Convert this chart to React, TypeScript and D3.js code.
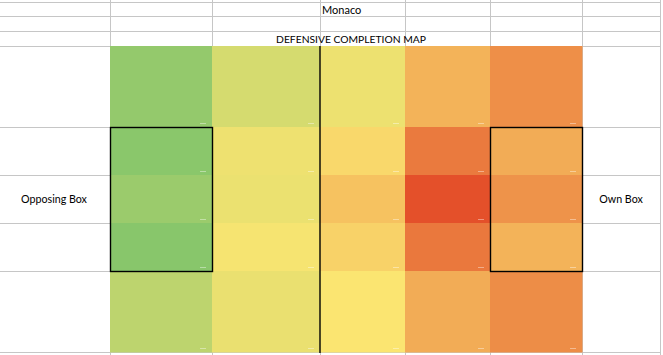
import React from "react";
import * as d3 from "d3";

// ---- data ----
const teamName = "Monaco";
const chartTitle = "DEFENSIVE COMPLETION MAP";
const leftLabel = "Opposing Box";
const rightLabel = "Own Box";
// pitch zones: columns from opposing box (left) to own box (right)
const zoneColumns = ["Att third", "Att middle", "Def middle", "Def third", "Own box col"];
const zoneRows = ["Wide left", "Half-space left", "Central", "Half-space right", "Wide right"];
// completion index per zone (0 = lowest, 1 = highest), row by row
const row0 = [0.05, 0.335, 0.44, 0.668, 0.79];
const row1 = [0.01, 0.443, 0.544, 0.86, 0.69];
const row2 = [0.083, 0.43, 0.617, 1.0, 0.775];
const row3 = [0.0, 0.48, 0.564, 0.866, 0.668];
const row4 = [0.23, 0.426, 0.5, 0.69, 0.795];
const values = [row0, row1, row2, row3, row4];

// ---- layout (spreadsheet geometry) ----
const W = 663, H = 355;
const colEdges = [0, 110, 212, 320, 405, 490, 582, 660]; // spreadsheet column boundaries
const headerLines = [2, 16, 31, 46];
const rowEdges = [46, 127, 175, 223, 271, 352];
const GRID = "#c6c6c6";
const FONT = "Lato, 'Open Sans', 'Liberation Sans', sans-serif";

export default function App() {
  const color = d3
    .scaleLinear<string>()
    .domain([0, 0.5, 1])
    .range(["#88c66b", "#fbe571", "#e4502a"])
    .interpolate(d3.interpolateRgb);

  const cx = (i: number) => colEdges[i + 1];
  const cw = (i: number) => colEdges[i + 2] - colEdges[i + 1];
  const ry = (j: number) => rowEdges[j];
  const rh = (j: number) => rowEdges[j + 1] - rowEdges[j];
  void zoneColumns;
  void zoneRows;

  const cells: React.ReactNode[] = [];
  values.forEach((row, j) =>
    row.forEach((v, i) => {
      cells.push(
        <g key={`c${i}-${j}`}>
          <rect x={cx(i)} y={ry(j)} width={cw(i) + 0.5} height={rh(j) + 0.5} fill={color(v)} />
          <rect x={cx(i) + cw(i) - 12} y={ry(j) + rh(j) - 4} width={6} height={1} fill="#fff" opacity={0.4} />
        </g>
      );
    })
  );

  const gridLines: React.ReactNode[] = [];
  headerLines.forEach((y, k) =>
    gridLines.push(<line key={`h${k}`} x1={0} x2={660} y1={y + 0.5} y2={y + 0.5} stroke={GRID} />)
  );
  colEdges.slice(1).forEach((cxv, k) =>
    gridLines.push(<line key={`v${k}`} x1={cxv + 0.5} x2={cxv + 0.5} y1={0} y2={46} stroke={GRID} />)
  );
  rowEdges.slice(1).forEach((y, k) => {
    gridLines.push(<line key={`l${k}`} x1={0} x2={110} y1={y + 0.5} y2={y + 0.5} stroke={GRID} />);
    gridLines.push(<line key={`r${k}`} x1={582} x2={660} y1={y + 0.5} y2={y + 0.5} stroke={GRID} />);
  });
  gridLines.push(<line key="bot" x1={110} x2={582} y1={352.5} y2={352.5} stroke={GRID} />);
  [110, 582, 660].forEach((xv, k) =>
    gridLines.push(<line key={`sv${k}`} x1={xv + 0.5} x2={xv + 0.5} y1={46} y2={355} stroke={GRID} />)
  );
  colEdges.slice(2, 6).forEach((xv, k) =>
    gridLines.push(<line key={`bv${k}`} x1={xv + 0.5} x2={xv + 0.5} y1={352} y2={355} stroke={GRID} />)
  );

  const boxTop = rowEdges[1], boxBot = rowEdges[4];
  return (
    <svg width={W} height={H} style={{ position: "absolute", left: 0, top: 0, background: "#fff" }} fontFamily={FONT}>
      {gridLines}
      {cells}
      <rect x={cx(0) + 0.5} y={boxTop + 0.5} width={cw(0)} height={boxBot - boxTop} fill="none" stroke="#000" strokeWidth={1.4} />
      <rect x={cx(4) + 0.5} y={boxTop + 0.5} width={cw(4)} height={boxBot - boxTop} fill="none" stroke="#000" strokeWidth={1.4} />
      <line x1={cx(2)} x2={cx(2)} y1={rowEdges[0]} y2={rowEdges[5] + 1} stroke="#000" strokeWidth={1.4} />
      <text x={322} y={14} fontSize={11} fill="#000">{teamName}</text>
      <text x={351} y={43} fontSize={10.3} fill="#000" textAnchor="middle">{chartTitle}</text>
      <text x={54} y={203} fontSize={10.7} fill="#000" textAnchor="middle">{leftLabel}</text>
      <text x={621} y={203} fontSize={10.7} fill="#000" textAnchor="middle">{rightLabel}</text>
    </svg>
  );
}
